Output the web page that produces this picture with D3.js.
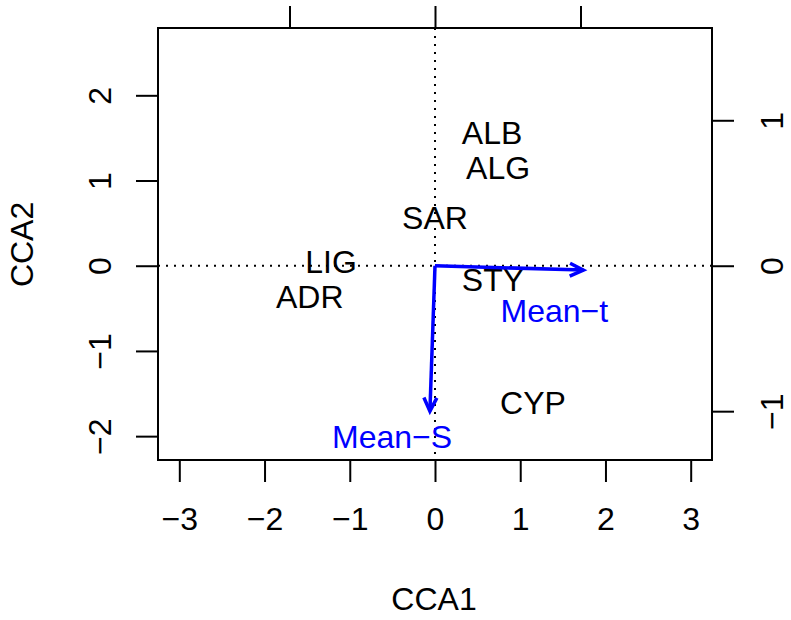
<!DOCTYPE html>
<html>
<head>
<meta charset="utf-8">
<script src="https://cdn.jsdelivr.net/npm/d3@7"></script>
<style>
  body { margin: 0; background: #fff; }
  text { font-family: "Liberation Sans", Arial, sans-serif; }
</style>
</head>
<body>
<div id="chart"></div>
<script>
// site scores (CCA1, CCA2)
var sites = ['ALB', 'ALG', 'SAR', 'LIG', 'ADR', 'STY', 'CYP'];
var cca1 = [0.67, 0.74, 0.0, -1.22, -1.47, 0.68, 1.15];
var cca2 = [1.56, 1.15, 0.57, 0.05, -0.36, -0.16, -1.6];

// biplot arrows (right/top axis units)
var vars = ['Mean\u2212t', 'Mean\u2212S'];
var arrX = [1.02, -0.035];
var arrY = [-0.03, -1.0];
var labX = [0.82, -0.295];
var labY = [-0.31, -1.175];

var xTicks = [-3, -2, -1, 0, 1, 2, 3];
var yTicks = [-2, -1, 0, 1, 2];
var arrTicks = [-1, 0, 1];
var arrMul = 1.707;

var W = 791, H = 620;
var svg = d3.select('#chart').append('svg')
    .attr('width', W)
    .attr('height', H);

var x = d3.scaleLinear().domain([-3.25, 3.25]).range([158, 712]);
var y = d3.scaleLinear().domain([-2.28, 2.79]).range([460, 28]);
// arrow scales share the same pixel range
var xa = d3.scaleLinear().domain(x.domain().map(function(d) { return d / arrMul; })).range(x.range());
var ya = d3.scaleLinear().domain(y.domain().map(function(d) { return d / arrMul; })).range(y.range());

var fs = 32;

// dotted zero lines
svg.append('line')
    .attr('x1', x(0)).attr('x2', x(0))
    .attr('y1', 28).attr('y2', 460)
    .attr('stroke', '#000').attr('stroke-width', 2)
    .attr('stroke-dasharray', '2,6');
svg.append('line')
    .attr('x1', 158).attr('x2', 712)
    .attr('y1', y(0)).attr('y2', y(0))
    .attr('stroke', '#000').attr('stroke-width', 2)
    .attr('stroke-dasharray', '2,6');

// axes
function styleAxis(g) {
    g.select('.domain').remove();
    g.selectAll('.tick line').attr('stroke', '#000').attr('stroke-width', 2);
    g.selectAll('.tick text').attr('font-size', fs).attr('fill', '#000')
        .style('font-family', '"Liberation Sans", Arial, sans-serif');
}
function fmt(d) { return d < 0 ? '\u2212' + Math.abs(d) : d; }

var gb = svg.append('g').attr('transform', 'translate(0,460)')
    .call(d3.axisBottom(x).tickValues(xTicks).tickSize(22).tickPadding(25).tickFormat(fmt));
styleAxis(gb);

var gl = svg.append('g').attr('transform', 'translate(158,0)')
    .call(d3.axisLeft(y).tickValues(yTicks).tickSize(22).tickFormat(fmt));
styleAxis(gl);
gl.selectAll('.tick text')
    .attr('x', 0)
    .attr('text-anchor', 'middle')
    .attr('transform', 'translate(-58,0) rotate(-90)')
    .attr('dy', '0.35em');

var gt = svg.append('g').attr('transform', 'translate(0,28)')
    .call(d3.axisTop(xa).tickValues(arrTicks).tickSize(22).tickFormat(''));
styleAxis(gt);

var gr = svg.append('g').attr('transform', 'translate(712,0)')
    .call(d3.axisRight(ya).tickValues(arrTicks).tickSize(22).tickFormat(fmt));
styleAxis(gr);
gr.selectAll('.tick text')
    .attr('x', 0)
    .attr('text-anchor', 'middle')
    .attr('transform', 'translate(60,0) rotate(-90)')
    .attr('dy', '0.35em');

// box
svg.append('rect')
    .attr('x', 158).attr('y', 28)
    .attr('width', 712 - 158).attr('height', 460 - 28)
    .attr('fill', 'none').attr('stroke', '#000').attr('stroke-width', 2);

// axis titles
svg.append('text')
    .attr('x', x(0) - 1).attr('y', 610)
    .attr('text-anchor', 'middle').attr('font-size', fs)
    .text('CCA1');
svg.append('text')
    .attr('transform', 'translate(33,' + y(0.25) + ') rotate(-90)')
    .attr('text-anchor', 'middle').attr('font-size', fs)
    .text('CCA2');

// site labels
svg.selectAll('.site')
    .data(sites)
    .enter().append('text')
    .attr('class', 'site')
    .attr('x', function(d, i) { return x(cca1[i]); })
    .attr('y', function(d, i) { return y(cca2[i]); })
    .attr('dy', '0.36em')
    .attr('text-anchor', 'middle')
    .attr('font-size', fs)
    .attr('fill', '#000')
    .text(function(d) { return d; });

// arrows
var head = 15, ang = Math.PI / 7;
vars.forEach(function(v, i) {
    var x0 = xa(0), y0 = ya(0), x1 = xa(arrX[i]), y1 = ya(arrY[i]);
    var a = Math.atan2(y1 - y0, x1 - x0);
    svg.append('line')
        .attr('x1', x0).attr('y1', y0).attr('x2', x1).attr('y2', y1)
        .attr('stroke', '#0000ff').attr('stroke-width', 3.5);
    svg.append('path')
        .attr('d', 'M' + (x1 - head * Math.cos(a - ang)) + ',' + (y1 - head * Math.sin(a - ang)) +
            'L' + x1 + ',' + y1 +
            'L' + (x1 - head * Math.cos(a + ang)) + ',' + (y1 - head * Math.sin(a + ang)))
        .attr('fill', 'none').attr('stroke', '#0000ff').attr('stroke-width', 3.5)
        .attr('stroke-linejoin', 'miter');
    svg.append('text')
        .attr('x', xa(labX[i])).attr('y', ya(labY[i]))
        .attr('dy', '0.36em')
        .attr('text-anchor', 'middle')
        .attr('font-size', fs)
        .attr('fill', '#0000ff')
        .text(v);
});
</script>
</body>
</html>
